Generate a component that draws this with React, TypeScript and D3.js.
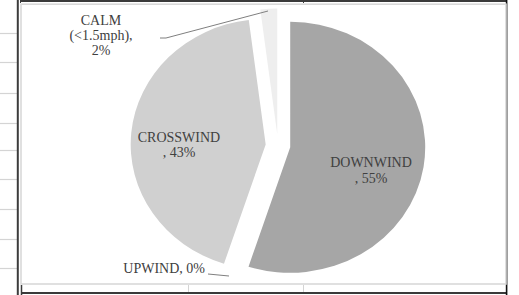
import React from "react";
import * as d3 from "d3";

const categories = ["DOWNWIND", "UPWIND", "CROSSWIND", "CALM"];
const values = [55, 0, 43, 2];
const labelLines = [
  ["DOWNWIND", ", 55%"],
  ["UPWIND, 0%"],
  ["CROSSWIND", ", 43%"],
  ["CALM", "(<1.5mph),", "2%"],
];
const sheetRowLines = [33, 62, 93, 123, 150, 179, 209, 239, 268];

const W = 519;
const H = 295;
const colors = ["#a6a6a6", "#ffffff", "#d0d0d0", "#eeeeee"];

export default function App() {
  const cx = 278;
  const cy = 145.5;
  const r = 125.5;
  const sx = 135 / 125.5;
  const explode = 11.5;

  const pie = d3.pie<number>().sort(null).value((d) => d);
  const arcs = pie(values);
  const arc = d3.arc<d3.PieArcDatum<number>>().innerRadius(0).outerRadius(r);

  const labelPos: { x: number; y: number; anchor: string; dy: number }[] = [
    { x: 371, y: 167, anchor: "middle", dy: 15.5 },
    { x: 205, y: 273, anchor: "end", dy: 15 },
    { x: 179, y: 142, anchor: "middle", dy: 15 },
    { x: 101, y: 25, anchor: "middle", dy: 15 },
  ];

  return (
    <svg
      width={W}
      height={H}
      style={{ position: "absolute", left: 0, top: 0, background: "#fff" }}
    >
      <rect x={0} y={0} width={W} height={H} fill="#fff" />
      {/* spreadsheet background */}
      {sheetRowLines.map((y, i) => (
        <line key={i} x1={0} x2={17} y1={y + 0.5} y2={y + 0.5} stroke="#d4d4d4" strokeWidth={1.2} />
      ))}
      <line x1={17.8} x2={17.8} y1={0} y2={H} stroke="#3c3c3c" strokeWidth={2} />
      <line x1={20} x2={507} y1={1} y2={1} stroke="#3a3a3a" strokeWidth={2} />
      <line x1={20.5} x2={20.5} y1={0} y2={3} stroke="#3a3a3a" strokeWidth={1} />
      <line x1={303.5} x2={303.5} y1={0} y2={3} stroke="#3a3a3a" strokeWidth={1} />
      <line x1={21} x2={507} y1={293} y2={293} stroke="#3a3a3a" strokeWidth={2.2} />
      <line x1={21.5} x2={21.5} y1={285} y2={295} stroke="#3a3a3a" strokeWidth={1.5} />
      <line x1={188.5} x2={188.5} y1={285} y2={292} stroke="#d4d4d4" strokeWidth={1} />
      <line x1={303.5} x2={303.5} y1={285} y2={292} stroke="#d4d4d4" strokeWidth={1} />
      <line x1={506.6} x2={506.6} y1={0} y2={H} stroke="#111" strokeWidth={1.6} />
      {/* chart area border */}
      <rect x={21} y={4.2} width={485} height={279.8} fill="#fff" stroke="#d9d9d9" strokeWidth={1.6} />

      {/* pie */}
      <g transform={`translate(${cx},${cy}) scale(${sx},1)`}>
        {arcs.map((a, i) => {
          if (a.endAngle - a.startAngle <= 0) return null;
          const mid = (a.startAngle + a.endAngle) / 2;
          const ox = Math.sin(mid) * explode;
          const oy = -Math.cos(mid) * explode;
          return (
            <path
              key={categories[i]}
              d={arc(a) || ""}
              transform={`translate(${ox},${oy})`}
              fill={colors[i]}
            />
          );
        })}
      </g>

      {/* leader lines */}
      <polyline
        points="160,38 166,38 268,11"
        fill="none"
        stroke="#7f7f7f"
        strokeWidth={1}
      />
      <line x1={208} y1={274} x2={229} y2={276} stroke="#7f7f7f" strokeWidth={1} />

      {/* labels */}
      {labelLines.map((lines, i) => (
        <text
          key={i}
          x={labelPos[i].x}
          y={labelPos[i].y}
          textAnchor={labelPos[i].anchor as any}
          fontFamily="'Liberation Serif', 'Times New Roman', serif"
          fontSize={14}
          fill="#404040"
        >
          {lines.map((l, j) => (
            <tspan key={j} x={labelPos[i].x} dy={j === 0 ? 0 : labelPos[i].dy}>
              {l}
            </tspan>
          ))}
        </text>
      ))}
    </svg>
  );
}
